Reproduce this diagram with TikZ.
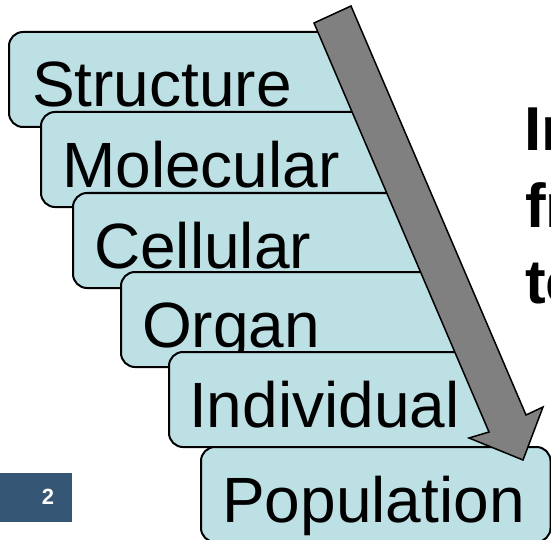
\documentclass[tikz,border=0pt]{standalone}
\usepackage{fontspec}
\setmainfont{Liberation Sans}
\definecolor{boxfill}{RGB}{188,224,228}
\definecolor{arrowgray}{RGB}{128,128,128}
\definecolor{pagebox}{RGB}{54,86,118}
\tikzset{
  levelbox/.style={draw=black, line width=2pt, fill=boxfill, rounded corners=14pt,
    minimum height=95pt, anchor=north west, inner sep=0pt},
  levellabel/.style={anchor=base west, inner sep=0pt, font=\fontsize{64}{76}\selectfont},
  sidetext/.style={anchor=base west, inner sep=0pt, font=\fontsize{62}{74}\selectfont\bfseries},
  bigarrow/.style={draw=black, line width=1.5pt, fill=arrowgray, line join=miter}
}
\begin{document}
\begin{tikzpicture}[x=1pt,y=-1pt]
\useasboundingbox (0,0) rectangle (551,540);
\clip (0,0) rectangle (551,540);
% right-hand text, cut by the picture edge
\node[sidetext] (t1) at (524,151) {In};
\node[sidetext] (t2) at (525,227) {fr};
\node[sidetext] (t3) at (525,303) {te};
% page number
\node[fill=pagebox, minimum width=72pt, minimum height=49pt, anchor=north west, inner sep=0pt] (pg) at (0,473) {};
\node[text=white, font=\fontsize{22}{26}\selectfont\bfseries] (pgnum) at (48,497) {2};
% stacked level boxes
\node[levelbox, minimum width=352pt] (structure) at (8,31) {};
\node[levellabel] (lstructure) at (32,107) {Structure};
\node[levelbox, minimum width=354pt] (molecular) at (40,111) {};
\node[levellabel] (lmolecular) at (62,187) {Molecular};
\node[levelbox, minimum width=356pt] (cellular) at (72,192) {};
\node[levellabel] (lcellular) at (94,268) {Cellular};
\node[levelbox, minimum width=340pt] (organ) at (120,271) {};
\node[levellabel] (lorgan) at (142,347) {Organ};
\node[levelbox, minimum width=329pt] (individual) at (168,351) {};
\node[levellabel] (lindividual) at (189,427) {Individual};
\node[levelbox, minimum width=349.5pt] (population) at (200,446) {};
\node[levellabel] (lpopulation) at (222,522) {Population};
% big block arrow
\draw[bigarrow] (351,6) -- (526,415) -- (543,407) -- (523,460) -- (469,438) -- (489,432) -- (314,23) -- cycle;
\end{tikzpicture}
\end{document}
